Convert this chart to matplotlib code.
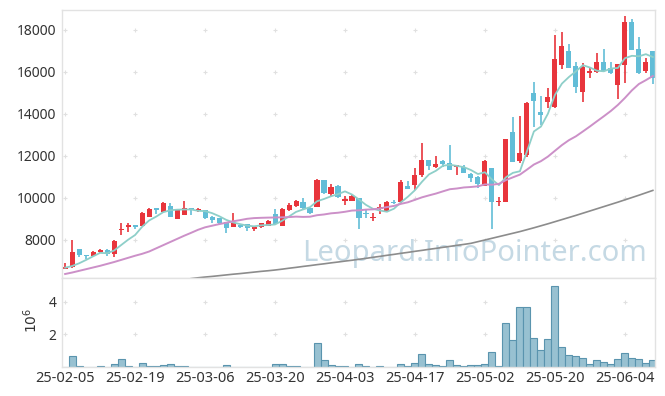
import numpy as np
import pandas as pd
import matplotlib
matplotlib.use('Agg')
import matplotlib.pyplot as plt

# daily OHLC (one entry per trading day, 25-02-05 .. 25-06-09)
opens = [6620, 6700, 7560, 7280, 7250, 7430, 7520, 7340, 8480, 8640,
         8710, 8680, 9110, 9520, 9320, 9620, 9020, 9200, 9510, 9380,
         9430, 9110, 9060, 8840, 8630, 8710, 8740, 8540, 8630, 8680,
         9240, 8670, 9430, 9640, 9790, 9510, 9590, 10860, 10190, 10570,
         9860, 9870, 9990, 9250, 9060, 9460, 9380, 9800, 9830, 10570,
         10620, 11100, 11810, 11490, 11780, 11650, 11460, 11490, 11140, 11020,
         10590, 11410, 9830, 9830, 13160, 11780, 12050, 14980, 14080, 14590,
         14320, 16330, 17000, 16290, 15060, 15970, 16020, 16480, 16180, 15380,
         16320, 18370, 17080, 16060, 17000]
highs = [6890, 8000, 7560, 7290, 7480, 7590, 7590, 8000, 8830, 8790,
         8720, 9330, 9520, 9530, 9790, 9780, 9440, 9870, 9520, 9540,
         9440, 9140, 9070, 8870, 9270, 8720, 8750, 8680, 8830, 8950,
         9460, 9510, 9780, 9900, 9990, 9520, 10880, 10870, 10670, 10620,
         10100, 10130, 10000, 9430, 9270, 9710, 9870, 9900, 10860, 10830,
         11410, 12600, 11830, 12000, 11800, 12520, 11580, 11570, 11200, 11060,
         11810, 11420, 10060, 12810, 13840, 13900, 14550, 15540, 14870, 15250,
         17760, 17890, 17320, 16490, 16410, 16250, 16890, 17080, 16490, 16400,
         18670, 18510, 17650, 16650, 17010]
lows = [6600, 6680, 7180, 7110, 7230, 7400, 7250, 7210, 8240, 8370,
        8510, 8650, 9100, 9220, 9300, 9100, 9000, 9200, 9200, 9320,
        9020, 8820, 8750, 8320, 8620, 8560, 8430, 8410, 8560, 8650,
        8710, 8650, 9400, 9590, 9460, 9240, 9580, 10170, 10100, 9990,
        9670, 9860, 8510, 9030, 8920, 9240, 9350, 9700, 9780, 10420,
        10380, 11020, 11330, 11410, 11460, 11320, 11100, 11190, 10780, 10460,
        10560, 8510, 9620, 9810, 11720, 11680, 11970, 13370, 13480, 14270,
        14270, 16130, 16200, 15020, 14590, 15700, 15940, 16050, 15900, 14700,
        15490, 17050, 15900, 15970, 15430]
closes = [6700, 7430, 7300, 7230, 7450, 7520, 7340, 7950, 8520, 8730,
          8640, 9290, 9460, 9430, 9780, 9110, 9430, 9510, 9430, 9460,
          9040, 8950, 8800, 8560, 8830, 8640, 8590, 8630, 8790, 8920,
          8760, 9460, 9670, 9870, 9510, 9300, 10860, 10220, 10510, 10030,
          9950, 10110, 9030, 9230, 9090, 9550, 9820, 9760, 10750, 10430,
          11100, 11810, 11520, 11620, 11620, 11330, 11550, 11210, 10940, 10670,
          11750, 9830, 9870, 12800, 11730, 12130, 14540, 14640, 13950, 14790,
          16600, 17240, 16210, 15300, 16250, 16060, 16480, 16060, 15970, 16380,
          18370, 17060, 15940, 16480, 15700]
volumes = [30000, 680000, 80000, 20000, 30000, 80000, 30000, 200000, 520000, 80000,
           30000, 270000, 80000, 80000, 140000, 200000, 80000, 80000, 20000, 20000,
           20000, 20000, 20000, 140000, 30000, 20000, 5000, 20000, 5000, 20000,
           200000, 200000, 80000, 80000, 20000, 20000, 1500000, 450000, 130000, 80000,
           80000, 20000, 200000, 80000, 20000, 80000, 20000, 20000, 200000, 80000,
           270000, 820000, 200000, 140000, 80000, 450000, 140000, 80000, 140000, 140000,
           200000, 940000, 80000, 2670000, 1680000, 3710000, 3710000, 1800000, 1070000, 1740000,
           4940000, 1250000, 760000, 700000, 570000, 200000, 450000, 330000, 200000, 510000,
           880000, 570000, 510000, 270000, 450000]

# moving-average values before enough in-window history exists
ma5_head = [6680, 6760, 6890, 7050]
ma20_head = [6380, 6450, 6530, 6610, 6690, 6770, 6860, 6950, 7050, 7150,
             7250, 7340, 7450, 7600, 7750, 7900, 8050, 8200, 8340]
# long moving average (gray), visible from bar 18 on
long_start = 18
ma_long = [6160, 6200, 6235, 6265, 6300, 6335, 6370, 6400, 6435, 6470,
           6505, 6535, 6570, 6610, 6655, 6695, 6740, 6780, 6825, 6865,
           6910, 6950, 6995, 7035, 7080, 7125, 7175, 7220, 7270, 7315,
           7365, 7410, 7460, 7505, 7555, 7600, 7650, 7695, 7745, 7790,
           7840, 7920, 8000, 8080, 8160, 8240, 8320, 8400, 8490, 8580,
           8675, 8770, 8870, 8970, 9070, 9170, 9275, 9380, 9485, 9590,
           9695, 9800, 9910, 10020, 10130, 10245, 10360]

tick_labels = ['25-02-05', '25-02-19', '25-03-06', '25-03-20', '25-04-03',
               '25-04-17', '25-05-02', '25-05-20', '25-06-04']

plt.rcParams['font.family'] = ['Noto Sans', 'DejaVu Sans']

df = pd.DataFrame({'open': opens, 'high': highs, 'low': lows,
                   'close': closes, 'volume': volumes})
x = np.arange(len(df))
ma5 = df['close'].rolling(5).mean().to_numpy()
ma5[:len(ma5_head)] = ma5_head
ma20 = df['close'].rolling(20).mean().to_numpy()
ma20[:len(ma20_head)] = ma20_head
x_long = x[long_start:long_start + len(ma_long)]

red = '#e8353c'
blue = '#62bdd7'
up = df['close'] >= df['open']
colors = np.where(up, red, blue)

fig = plt.figure(figsize=(6.65, 3.96), dpi=100)
ax = fig.add_axes([0.0932, 0.298, 0.8917, 0.6768])
axv = fig.add_axes([0.0932, 0.0732, 0.8917, 0.2248], sharex=ax)

# candles
ax.vlines(x, df['low'], df['high'], color=colors, linewidth=1.2, zorder=2)
body = np.maximum((df['close'] - df['open']).abs(), 40)
ax.bar(x, body, bottom=np.minimum(df['open'], df['close']), width=0.72,
       color=colors, zorder=2)

# moving averages
ax.plot(x, ma5, color='#8ecfc9', lw=1.3, zorder=3)
ax.plot(x, ma20, color='#cc90c8', lw=1.4, zorder=3)
ax.plot(x_long, ma_long, color='#8c8c8c', lw=1.2, zorder=3)

ax.text(0.696, 0.09, 'Leopard.InfoPointer.com', transform=ax.transAxes,
        ha='center', va='center', fontsize=21, color='#c5d9e4', zorder=1)

# volume
axv.bar(x, df['volume'], width=1.0, color='#98c1d1', edgecolor='#5a94ae',
        linewidth=0.8, zorder=2)

xticks = list(range(0, len(df), 10))
yticks = list(range(8000, 18001, 2000))
vticks = [2e6, 4e6]

# grid drawn as small crosses at tick intersections
gx, gy = np.meshgrid(xticks, yticks)
ax.scatter(gx.ravel(), gy.ravel(), marker='+', s=12, color='#e0e0e0',
           linewidths=0.8, zorder=0)
gx, gy = np.meshgrid(xticks, vticks)
axv.scatter(gx.ravel(), gy.ravel(), marker='+', s=12, color='#e0e0e0',
            linewidths=0.8, zorder=0)

ax.set_xlim(-0.45, 84.3)
ax.set_ylim(6190, 18950)
ax.set_yticks(yticks)
ax.set_yticklabels([str(v) for v in yticks])
axv.set_ylim(0, 5.46e6)
axv.set_yticks(vticks)
axv.set_yticklabels(['2', '4'])
axv.set_xticks(xticks)
axv.set_xticklabels(tick_labels[:len(xticks)])
ax.tick_params(axis='x', labelbottom=False)

for a in (ax, axv):
    a.tick_params(length=0, labelsize=10, colors='#333333', pad=4)
    for s in a.spines.values():
        s.set_color('#e2e2e2')
        s.set_linewidth(1.0)
axv.tick_params(axis='x', labelsize=10.5, pad=3)

fig.text(32 / 665, 1 - 320 / 396, '$10^6$', rotation=90, ha='center',
         va='center', fontsize=10, color='#333333')

fig.savefig('out.png', dpi=100)
